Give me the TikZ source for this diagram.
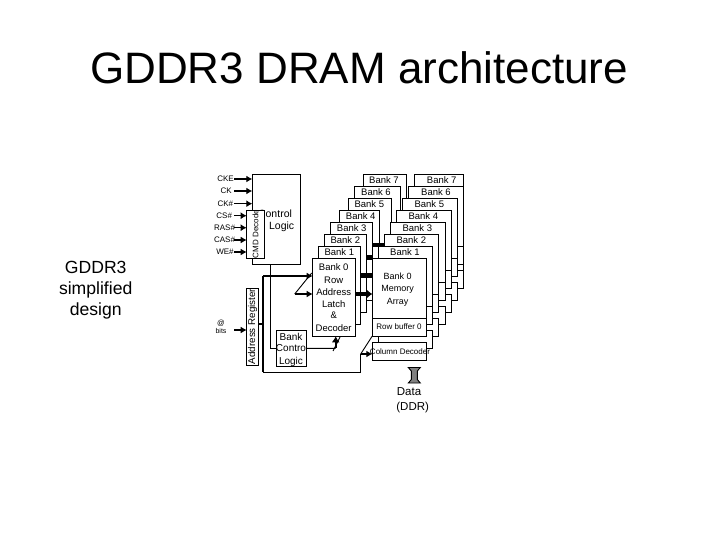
\documentclass[tikz,border=0pt]{standalone}
\usepackage{fontspec}
\setmainfont{Liberation Sans}
\usetikzlibrary{arrows.meta,calc}
\tikzset{
  box/.style={draw=black,fill=white,line width=0.9pt,inner sep=0pt,outer sep=0pt},
  wire/.style={draw=black,line width=0.9pt},
  heavy/.style={draw=black,line width=1.7pt},
  mid/.style={draw=black,line width=1.2pt},
  sig/.style={draw=black,line width=1.5pt,-{Latex[length=6pt,width=7pt]}},
  bar/.style={draw=black,line width=4.8pt},
}
\newcommand\bx[5]{\pgfmathsetmacro\bw{#4-#2}\pgfmathsetmacro\bh{#5-#3}%
  \node[box,minimum width=\bw pt,minimum height=\bh pt] (#1) at ({(#2+#4)/2},{(#3+#5)/2}) {};}
\newcommand\lab[5]{\node[anchor=base,inner sep=0pt,font=\fontsize{#4}{#4}\selectfont] (#1) at (#2,{#3+0.36*#4}) {#5};}
\begin{document}
\begin{tikzpicture}[x=1pt,y=-1pt]
\useasboundingbox (0,0) rectangle (720,540);
\fill[white] (0,0) rectangle (720,540);
% headings
\node[anchor=base,inner sep=0pt,font=\fontsize{44}{44}\selectfont] (title) at (359,84) {GDDR3 DRAM architecture};
\node[anchor=base,inner sep=0pt,font=\fontsize{17.6}{17.6}\selectfont] (s1) at (95.7,273) {GDDR3};
\node[anchor=base,inner sep=0pt,font=\fontsize{17.6}{17.6}\selectfont] (s2) at (95.7,294) {simplified};
\node[anchor=base,inner sep=0pt,font=\fontsize{17.6}{17.6}\selectfont] (s3) at (95.7,315) {design};
% left stack, back to front
\foreach \k/\l/\r in {7/363.3/406,6/354.3/400,5/348.3/391,4/339.3/379,3/330.3/372.7,2/324.3/366.7,1/318.3/360.7}{
  \pgfmathsetmacro\t{258.3-12*\k}
  \pgfmathsetmacro\d{336.3-12*\k}
  \bx{ld\k}{\l}{\t}{\r}{\d}
}
% right stack, back to front
\foreach \k/\l/\r in {7/414.3/463,6/408.3/463,5/402.3/457,4/396.3/451,3/390.3/445,2/384.3/438.7,1/378.3/432.7}{
  \pgfmathsetmacro\t{258.3-12*\k}
  \pgfmathsetmacro\a{318.3-12*\k}
  \pgfmathsetmacro\b{336.7-12*\k}
  \pgfmathsetmacro\c{342.3-12*\k}
  \pgfmathsetmacro\d{360.3-12*\k}
  \bx{cd\k}{\l}{\c}{\r}{\d}
  \bx{rb\k}{\l}{\a}{\r}{\b}
  \bx{ar\k}{\l}{\t}{\r}{\a}
}
% stack labels
\foreach \k/\x/\y in {7/384/180,6/376/192,5/369.3/204,4/360.7/216,3/351.7/228,2/345.3/240,1/339.3/252}{
  \lab{lt\k}{\x}{\y}{9.5}{Bank \k}
}
\foreach \k/\x/\y in {7/441.7/180,6/436/192,5/429.3/204,4/423.3/216,3/417.3/228,2/411.3/240,1/405/252}{
  \lab{rt\k}{\x}{\y}{9.5}{Bank \k}
}
% black links between stacks
\coordinate (b1a) at (372.3,245); \coordinate (b1b) at (384.3,245);
\coordinate (b2a) at (366.7,257.6); \coordinate (b2b) at (372.7,257.6);
\coordinate (b3a) at (360.7,275.8); \coordinate (b3b) at (372.3,275.8);
\draw[bar] (b1a) -- (b1b);
\draw[bar] (b2a) -- (b2b);
\draw[bar] (b3a) -- (b3b);
% bank 0 right
\bx{array}{372.3}{258.3}{426.3}{318.3}
\bx{rowbuf}{372.3}{318.3}{426.3}{336.7}
\bx{coldec}{372.3}{342.3}{426.3}{360.3}
\lab{m1}{397.7}{276.7}{9}{Bank 0}
\lab{m2}{397.7}{288.7}{9}{Memory}
\lab{m3}{397.7}{301}{9}{Array}
\lab{rbt}{399}{327}{8}{Row buffer 0}
\lab{cdt}{400}{351.7}{8}{Column Decoder}
\coordinate (rc) at ($(rowbuf.south west)+(6,0)$);
\draw[wire] (rc) -- (rc |- coldec.north);
% bank 0 row
\bx{row}{312.7}{258.3}{355}{336.3}
\lab{r1}{333.7}{267.3}{9.5}{Bank 0}
\lab{r2}{333.7}{279.7}{9.5}{Row}
\lab{r3}{333.7}{292}{9.5}{Address}
\lab{r4}{333.7}{303.7}{9.5}{Latch}
\lab{r5}{333.7}{315}{9.5}{\&}
\lab{r6}{333.7}{327.7}{9.5}{Decoder}
% row to array
\coordinate (ra) at (355,294);
\draw[line width=4.8pt,-{Latex[length=6pt,width=10pt]}] (ra) -- (ra -| array.west);
% control logic
\bx{ctrl}{252.3}{174}{300}{264}
\lab{c1}{275}{214}{10.5}{Control}
\lab{c2}{281.7}{226}{10.5}{Logic}
\bx{cmd}{246.7}{210}{264}{258}
\node[rotate=90,inner sep=0pt,font=\fontsize{8}{8}\selectfont] (cmdt) at (255.5,234) {CMD Decode};
\foreach \n/\t/\x/\y/\w in {cke/CKE/225.5/179/ctrl,ck/CK/226.2/191/ctrl,ckn/CK\#/225.3/203.7/ctrl,csn/CS\#/224.2/215.7/cmd,ras/RAS\#/224.5/227.7/cmd,cas/CAS\#/224.5/240/cmd,wen/WE\#/225/252/cmd}{
  \lab{\n}{\x}{\y}{8}{\t}
  \coordinate (\n s) at (234,\y);
  \draw[sig] (\n s) -- (\n s -| \w.west);
}
% address register
\bx{addr}{246.7}{288}{258.7}{365}
\node[rotate=90,inner sep=0pt,font=\fontsize{9.8}{9.8}\selectfont] (addrt) at (252.7,326.5) {Address Register};
\lab{at}{221}{322.7}{7.5}{@}
\lab{bits}{221}{331}{7}{bits}
\coordinate (ats) at (234,330);
\draw[sig] (ats) -- (ats -| addr.west);
% bank control
\bx{bank}{276.7}{330.7}{306}{366}
\lab{k1}{291}{336.7}{10}{Bank}
\lab{k2}{291}{348.3}{10}{Contro}
\lab{k3}{291}{360.7}{10}{Logic}
\coordinate (cv) at (270.7,264);
\draw[wire] (cv) |- (bank.west);
\coordinate (bj) at (335.7,348.3);
\draw[wire] (bank.east) -- (bj);
\draw[line width=1.8pt,-{Latex[length=6pt,width=8pt]}] (bj) -- (bj |- row.south);
\coordinate (s1a) at (333,351); \coordinate (s1b) at (340,337);
\draw[wire] (s1a) -- (s1b);
% address bus
\coordinate (busx) at (263.3,324);
\coordinate (tb) at (263.3,276);
\coordinate (bb) at (263.3,372.3);
\coordinate (cb) at (360.7,372.3);
\coordinate (cc) at (360.7,354);
\draw[heavy] (addr.east |- busx) -- (busx);
\draw[heavy] (tb) -- (bb);
\draw[heavy,-{Latex[length=6pt,width=7pt]}] (tb) -- (tb -| row.west);
\draw[mid] (bb) -- (cb) -- (cc);
\draw[heavy,-{Latex[length=6pt,width=7pt]}] (cc) -- (cc -| coldec.west);
% muxes
\coordinate (m1a) at (294.7,294); \coordinate (m1b) at (311.7,273);
\draw[wire] (m1a) -- (m1b);
\draw[heavy,-{Latex[length=6pt,width=7pt]}] (m1a) -- (m1a -| row.west);
\coordinate (m2a) at (360.7,354); \coordinate (m2b) at (372.3,336);
\draw[wire] (m2a) -- (m2b);
% data
\filldraw[fill=gray,draw=black,line width=0.9pt] (408.3,367.5) -- (420.3,367.5) -- (417.3,371) -- (417.3,379.5) -- (420.3,383) -- (408.3,383) -- (411.3,379.5) -- (411.3,371) -- cycle;
\lab{d1}{409}{391.7}{11.5}{Data}
\lab{d2}{412.7}{406.7}{11.5}{(DDR)}
\end{tikzpicture}
\end{document}
